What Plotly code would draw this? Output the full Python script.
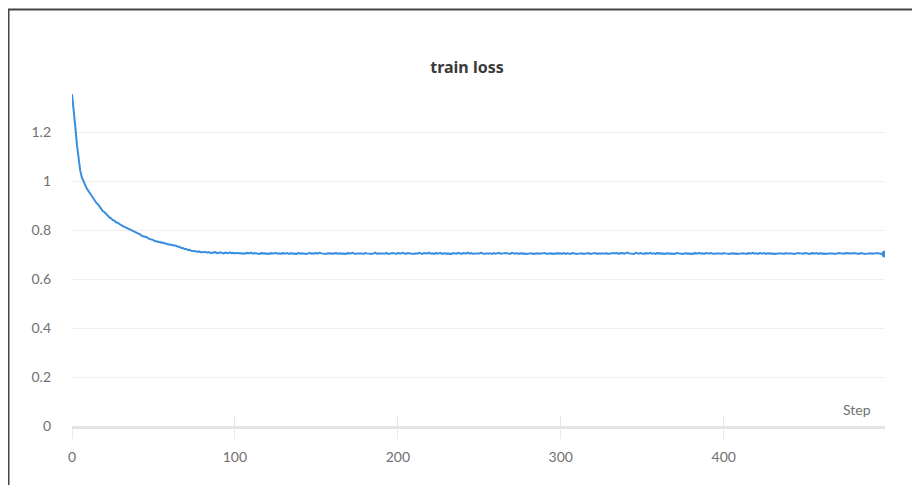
import plotly.graph_objects as go

# train loss per step
loss_decay = [
    1.355, 1.300, 1.225, 1.150, 1.090, 1.045, 1.016, 0.998, 0.986, 0.971,
    0.961, 0.949, 0.941, 0.929, 0.922, 0.911, 0.905, 0.894, 0.887, 0.877,
    0.873, 0.865, 0.861, 0.852, 0.848, 0.841, 0.839, 0.832, 0.830, 0.824,
    0.821, 0.817, 0.814, 0.808, 0.807, 0.802, 0.801, 0.796, 0.795, 0.790,
    0.789, 0.784, 0.782, 0.776, 0.775, 0.771, 0.771, 0.765, 0.764, 0.760,
    0.759, 0.755, 0.755, 0.751, 0.752, 0.748, 0.749, 0.745, 0.745, 0.741,
    0.742, 0.739, 0.739, 0.736, 0.736, 0.732, 0.732, 0.727, 0.727, 0.723,
    0.723, 0.719, 0.720, 0.716, 0.716, 0.713, 0.714, 0.711, 0.713, 0.710,
    0.711,
]
loss_plateau = [
    0.709, 0.711, 0.708, 0.710, 0.707, 0.709, 0.708, 0.710, 0.706, 0.708, 0.709, 0.707, 0.705, 0.708, 0.707, 0.706, 0.709, 0.706, 0.707, 0.705,
    0.707, 0.706, 0.708, 0.705, 0.706, 0.704, 0.707, 0.705, 0.706, 0.708, 0.704, 0.706, 0.705, 0.707, 0.703, 0.706, 0.705, 0.704, 0.706, 0.705,
    0.703, 0.706, 0.704, 0.705, 0.707, 0.704, 0.705, 0.703, 0.706, 0.704, 0.705, 0.706, 0.703, 0.705, 0.704, 0.706, 0.705, 0.703, 0.707, 0.704,
    0.705, 0.704, 0.706, 0.703, 0.705, 0.707, 0.704, 0.705, 0.703, 0.706, 0.704, 0.708, 0.705, 0.704, 0.706, 0.703, 0.705, 0.704, 0.706, 0.705,
    0.704, 0.707, 0.703, 0.705, 0.704, 0.706, 0.705, 0.703, 0.706, 0.704, 0.705, 0.707, 0.704, 0.703, 0.705, 0.706, 0.704, 0.705, 0.703, 0.706,
    0.705, 0.704, 0.706, 0.703, 0.705, 0.708, 0.704, 0.705, 0.703, 0.706, 0.705, 0.704, 0.707, 0.703, 0.705, 0.704, 0.706, 0.705, 0.703, 0.706,
    0.704, 0.705, 0.707, 0.704, 0.703, 0.706, 0.705, 0.704, 0.706, 0.703, 0.705, 0.704, 0.707, 0.705, 0.703, 0.706, 0.704, 0.705, 0.708, 0.704,
    0.705, 0.703, 0.706, 0.704, 0.705, 0.707, 0.703, 0.705, 0.704, 0.706, 0.705, 0.704, 0.703, 0.706, 0.705, 0.704, 0.707, 0.705, 0.703, 0.706,
    0.704, 0.705, 0.708, 0.704, 0.706, 0.703, 0.705, 0.704, 0.706, 0.705, 0.707, 0.704, 0.703, 0.705, 0.706, 0.704, 0.705, 0.703, 0.706, 0.704,
    0.705, 0.707, 0.704, 0.703, 0.705, 0.706, 0.704, 0.705, 0.703, 0.707, 0.705, 0.704, 0.706, 0.703, 0.705, 0.704, 0.706, 0.705, 0.703, 0.704,
    0.706, 0.705, 0.703, 0.704, 0.706, 0.705, 0.704, 0.703, 0.705, 0.706, 0.704, 0.703, 0.705, 0.704, 0.706, 0.703, 0.705, 0.704, 0.703, 0.705,
    0.704, 0.706, 0.703, 0.705, 0.704, 0.703, 0.706, 0.704, 0.705, 0.703, 0.704, 0.706, 0.705, 0.703, 0.704, 0.705, 0.706, 0.703, 0.705, 0.704,
    0.706, 0.704, 0.705, 0.703, 0.707, 0.705, 0.704, 0.706, 0.703, 0.705, 0.704, 0.706, 0.705, 0.707, 0.704, 0.705, 0.703, 0.706, 0.704, 0.705,
    0.708, 0.705, 0.704, 0.706, 0.703, 0.707, 0.705, 0.704, 0.706, 0.705, 0.703, 0.706, 0.704, 0.705, 0.707, 0.704, 0.705, 0.703, 0.706, 0.705,
    0.704, 0.706, 0.705, 0.703, 0.705, 0.704, 0.706, 0.705, 0.704, 0.703, 0.706, 0.705, 0.704, 0.706, 0.703, 0.705, 0.704, 0.706, 0.705, 0.704,
    0.703, 0.706, 0.704, 0.705, 0.707, 0.704, 0.705, 0.703, 0.706, 0.704, 0.705, 0.706, 0.704, 0.703, 0.705, 0.706, 0.704, 0.705, 0.703, 0.706,
    0.705, 0.704, 0.706, 0.703, 0.705, 0.704, 0.706, 0.705, 0.703, 0.704, 0.706, 0.705, 0.704, 0.703, 0.706, 0.704, 0.705, 0.707, 0.704, 0.705,
    0.703, 0.706, 0.704, 0.705, 0.706, 0.703, 0.705, 0.704, 0.706, 0.705, 0.704, 0.703, 0.705, 0.706, 0.704, 0.705, 0.703, 0.706, 0.704, 0.705,
    0.706, 0.704, 0.703, 0.705, 0.704, 0.706, 0.705, 0.703, 0.704, 0.706, 0.705, 0.704, 0.703, 0.706, 0.704, 0.705, 0.706, 0.703, 0.705, 0.704,
    0.706, 0.705, 0.703, 0.704, 0.705, 0.706, 0.704, 0.703, 0.705, 0.704, 0.706, 0.705, 0.703, 0.704, 0.706, 0.705, 0.704, 0.703, 0.705, 0.706,
    0.704, 0.705, 0.703, 0.706, 0.704, 0.705, 0.703, 0.704, 0.706, 0.705, 0.704, 0.703, 0.705, 0.706, 0.704, 0.705, 0.703, 0.704, 0.702,
]
loss = loss_decay + loss_plateau
steps = list(range(len(loss)))

x_ticks = [0, 100, 200, 300, 400]
y_ticks = [0, 0.2, 0.4, 0.6, 0.8, 1, 1.2]
y_tick_text = ["0", "0.2", "0.4", "0.6", "0.8", "1", "1.2"]

LINE = "#3a8ee0"
FONT = "Lato, Noto Sans, sans-serif"

# figure is placed inside the page's 8px body margin
W, H = 912, 477
L, R, T, B = 64, 35, 85, 59
PW, PH = W - L - R, H - T - B


def px(fx):
    return (fx - L) / PW


def py(fy):
    return (H - B - fy) / PH


fig = go.Figure()
fig.add_trace(go.Scatter(x=steps, y=loss, mode="lines",
                         line=dict(color=LINE, width=2), showlegend=False))
fig.add_trace(go.Scatter(x=[steps[-1]], y=[loss[-1]], mode="markers",
                         marker=dict(color=LINE, size=7), showlegend=False))
# invisible trace on overlay axis for upper tick halves
fig.add_trace(go.Scatter(x=[steps[0]], y=[loss[0]], xaxis="x2", mode="markers",
                         marker=dict(opacity=0), showlegend=False, hoverinfo="skip"))

fig.update_layout(
    width=W, height=H,
    margin=dict(l=L, r=R, t=T, b=B),
    paper_bgcolor="white", plot_bgcolor="white",
    title=dict(text="<b>train loss</b>", x=459 / W, xanchor="center",
               y=1 - 59 / H, yanchor="middle",
               font=dict(family="Noto Sans, sans-serif", size=16, color="#3a3a3a")),
    xaxis=dict(range=[0, 499], tickvals=x_ticks, showgrid=False,
               zeroline=False, showline=True, linecolor="#e4e4e4", linewidth=3,
               ticks="outside", ticklen=10, tickcolor="#e8e8e8", tickwidth=1,
               ticklabelstandoff=6,
               tickfont=dict(family=FONT, size=14, color="#707070")),
    xaxis2=dict(range=[0, 499], tickvals=x_ticks, overlaying="x", side="bottom",
                showgrid=False, zeroline=False, showline=False,
                ticks="inside", ticklen=10, tickcolor="#e8e8e8", tickwidth=1,
                showticklabels=False),
    yaxis=dict(range=[0, 1.36], tickvals=y_ticks, ticktext=y_tick_text,
               showgrid=True, gridcolor="#f0f0f0", gridwidth=1,
               zeroline=False, showline=False, ticks="",
               ticklabelstandoff=20,
               tickfont=dict(family=FONT, size=14, color="#707070")),
    annotations=[dict(text="Step", xref="paper", yref="paper", x=px(865),
                      y=0, xanchor="right", yanchor="bottom", yshift=6,
                      showarrow=False,
                      font=dict(family=FONT, size=14, color="#707070"))],
    shapes=[
        dict(type="line", xref="paper", yref="paper",
             x0=px(0), x1=px(W + 2), y0=py(1.5), y1=py(1.5),
             line=dict(color="#444444", width=2)),
        dict(type="line", xref="paper", yref="paper",
             x0=px(0.75), x1=px(0.75), y0=py(1.5), y1=py(H + 2),
             line=dict(color="#444444", width=1.5)),
    ],
)

fig.write_html("out.html")
